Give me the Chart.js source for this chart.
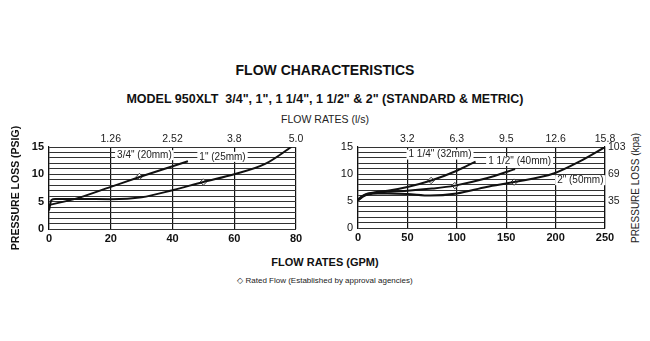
<!DOCTYPE html>
<html><head><meta charset="utf-8">
<script src="https://cdn.jsdelivr.net/npm/chart.js@4.4.1/dist/chart.umd.min.js"></script>
<style>
body{margin:0;width:650px;height:341px;background:#fff;position:relative;overflow:hidden;font-family:"Liberation Sans",Arial,sans-serif;color:#111}
.t{position:absolute;left:0;width:650px;text-align:center;white-space:nowrap}
canvas{position:absolute}
#kpa{position:absolute;left:635px;top:188px;transform:translate(-50%,-50%) rotate(-90deg);font-size:10px;white-space:nowrap;color:#222}
</style></head><body>
<div class="t" style="top:62px;font-size:14px;font-weight:bold">FLOW CHARACTERISTICS</div>
<div class="t" style="top:92px;font-size:12.5px;font-weight:bold">MODEL 950XLT&nbsp; 3/4", 1", 1 1/4", 1 1/2" &amp; 2" (STANDARD &amp; METRIC)</div>
<div class="t" style="top:113px;font-size:10.5px;color:#222">FLOW RATES (l/s)</div>
<div class="t" style="top:256px;font-size:11px;font-weight:bold">FLOW RATES (GPM)</div>
<div class="t" style="top:276px;font-size:8px;color:#222">◇ Rated Flow (Established by approval agencies)</div>
<div id="kpa">PRESSURE LOSS (kpa)</div>
<canvas id="c1" width="310" height="140" style="left:0;top:120px;width:310px;height:140px"></canvas>
<canvas id="c2" width="330" height="140" style="left:320px;top:120px;width:330px;height:140px"></canvas>
<script>
// ---- data: left chart (3/4" and 1") ----
const gpm34 = [0, 9, 20, 29.3, 45];
const psi34 = [4.4, 5.6, 7.7, 9.5, 12.4];
const gpm1 = [0, 0.8, 2, 10, 20, 30, 40, 50, 60, 70, 78.5];
const psi1 = [3.4, 5.3, 5.5, 5.5, 5.45, 5.8, 7.1, 8.6, 10.0, 11.9, 15.0];
const ratedLeftGpm = [29.3, 50];
const ratedLeftPsi = [9.6, 8.6];
// ---- data: right chart (1 1/4", 1 1/2", 2") ----
const gpm114 = [0, 5, 10, 20, 30, 50, 74, 100, 119];
const psi114 = [5.3, 6.0, 6.4, 6.7, 6.9, 7.6, 8.8, 10.6, 12.3];
const gpm112 = [0, 5, 10, 20, 30, 50, 75, 98, 130, 159];
const psi112 = [5.2, 5.9, 6.3, 6.6, 6.7, 6.9, 7.3, 7.85, 9.2, 10.9];
const gpm2 = [0, 5, 10, 20, 30, 50, 73, 100, 130, 158, 198, 225, 250];
const psi2 = [5.1, 5.8, 6.2, 6.4, 6.4, 6.3, 6.0, 6.4, 7.6, 8.5, 10.1, 12.4, 15.0];
const ratedRightGpm = [74, 98, 158];
const ratedRightPsi = [8.8, 7.85, 8.5];
// ---- tick labels ----
const psiTicks = [0, 5, 10, 15];
const lsLeftAt = [20, 40, 60, 80];
const lsLeftLabels = ['1.26', '2.52', '3.8', '5.0'];
const lsRightAt = [50, 100, 150, 200, 250];
const lsRightLabels = ['3.2', '6.3', '9.5', '12.6', '15.8'];
const kpaAt = [5, 10, 15];
const kpaLabels = ['35', '69', '103'];
// ---- curve labels ----
const leftLabels = [['3/4" (20mm)', 30.9, 13.5], ['1" (25mm)', 56.2, 13.2]];
const rightLabels = [['1 1/4" (32mm)', 83, 13.6], ['1 1/2" (40mm)', 163.6, 12.4], ['2" (50mm)', 225, 8.85]];

Chart.defaults.font.family = '"Liberation Sans", Arial, sans-serif';
Chart.defaults.color = '#222';

const zip = (xs, ys) => xs.map((x, i) => ({x, y: ys[i]}));
const lineDs = (xs, ys) => ({data: zip(xs, ys), borderColor: '#111', borderWidth: 2, pointRadius: 0,
  cubicInterpolationMode: 'monotone', fill: false});
const ratedDs = (xs, ys) => ({data: zip(xs, ys), showLine: false, pointStyle: 'rectRot', pointRadius: 3.2,
  pointBackgroundColor: '#fff', pointBorderColor: '#333', pointBorderWidth: 1});

const labelPlugin = {
  id: 'curveLabels',
  afterDraw(chart, args, opts) {
    const {ctx} = chart; const xs = chart.scales.x, ys = chart.scales.y;
    ctx.save();
    ctx.font = '10px "Liberation Sans", Arial, sans-serif';
    ctx.textAlign = 'center'; ctx.textBaseline = 'middle';
    opts.items.forEach(([t, gx, py]) => {
      const px = xs.getPixelForValue(gx), pyy = ys.getPixelForValue(py);
      const w = ctx.measureText(t).width;
      ctx.fillStyle = '#fff';
      ctx.fillRect(px - w / 2 - 2, pyy - 5, w + 4, 10);
      ctx.fillStyle = '#222';
      ctx.fillText(t, px, pyy);
    });
    ctx.restore();
  }
};

function makeChart(id, cfg) {
  const scales = {
    x: {type: 'linear', min: 0, max: cfg.xmax, position: 'bottom',
      ticks: {stepSize: cfg.xstep, padding: 3, color: '#111', font: {size: 11, weight: 'bold'}},
      grid: {color: '#111', lineWidth: 1.2, drawTicks: false},
      border: {display: false},
      afterFit: s => { s.height = cfg.bottomH; }},
    x2: {type: 'linear', min: 0, max: cfg.xmax, position: 'top',
      afterBuildTicks: s => { s.ticks = cfg.lsAt.map(v => ({value: v})); },
      ticks: {padding: 2, font: {size: 10.5}, callback: v => cfg.lsLabels[cfg.lsAt.indexOf(v)] || ''},
      grid: {display: false, drawTicks: false}, border: {display: false},
      afterFit: s => { s.height = cfg.topH; }},
    y: {type: 'linear', min: 0, max: 15, position: 'left',
      afterBuildTicks: s => { const t = []; for (let v = 0; v <= 15; v++) t.push({value: v}); s.ticks = t; },
      ticks: {autoSkip: false, padding: 5, color: '#111', font: {size: 11, weight: cfg.yBold ? 'bold' : 'normal'},
        callback: v => psiTicks.includes(v) ? String(v) : ''},
      grid: {color: '#333', lineWidth: 1, drawTicks: false},
      border: {display: true, color: '#111', width: 1.2},
      title: cfg.yTitle ? {display: true, text: cfg.yTitle, color: '#111', font: {size: 10.5, weight: 'bold'}, padding: {top: 10, bottom: 0}} : {display: false},
      afterFit: s => { s.width = cfg.leftW; }}
  };
  if (cfg.kpa) {
    scales.y2 = {type: 'linear', min: 0, max: 15, position: 'right',
      afterBuildTicks: s => { s.ticks = kpaAt.map(v => ({value: v})); },
      ticks: {padding: 3, font: {size: 10.5}, callback: v => kpaLabels[kpaAt.indexOf(v)] || ''},
      grid: {display: false, drawTicks: false}, border: {display: true, color: '#111', width: 1.2},
      afterFit: s => { s.width = cfg.rightW; }};
  }
  return new Chart(document.getElementById(id), {
    type: 'line',
    data: {datasets: cfg.datasets},
    options: {
      responsive: false, animation: false, devicePixelRatio: 1,
      layout: {padding: {left: 0, right: cfg.padR, top: 0, bottom: 0}},
      plugins: {legend: {display: false}, tooltip: {enabled: false}, curveLabels: {items: cfg.labels}},
      scales
    },
    plugins: [labelPlugin]
  });
}

makeChart('c1', {
  xmax: 80, xstep: 20, lsAt: lsLeftAt, lsLabels: lsLeftLabels, yBold: true,
  yTitle: 'PRESSURE LOSS (PSIG)', leftW: 49, padR: 14, topH: 27, bottomH: 31,
  labels: leftLabels,
  datasets: [lineDs(gpm34, psi34), lineDs(gpm1, psi1), ratedDs(ratedLeftGpm, ratedLeftPsi)]
});
makeChart('c2', {
  xmax: 250, xstep: 50, lsAt: lsRightAt, lsLabels: lsRightLabels, yBold: false,
  yTitle: null, leftW: 38, padR: 0, rightW: 45, kpa: true, topH: 27, bottomH: 32,
  labels: rightLabels,
  datasets: [lineDs(gpm114, psi114), lineDs(gpm112, psi112), lineDs(gpm2, psi2), ratedDs(ratedRightGpm, ratedRightPsi)]
});
</script>
</body></html>
